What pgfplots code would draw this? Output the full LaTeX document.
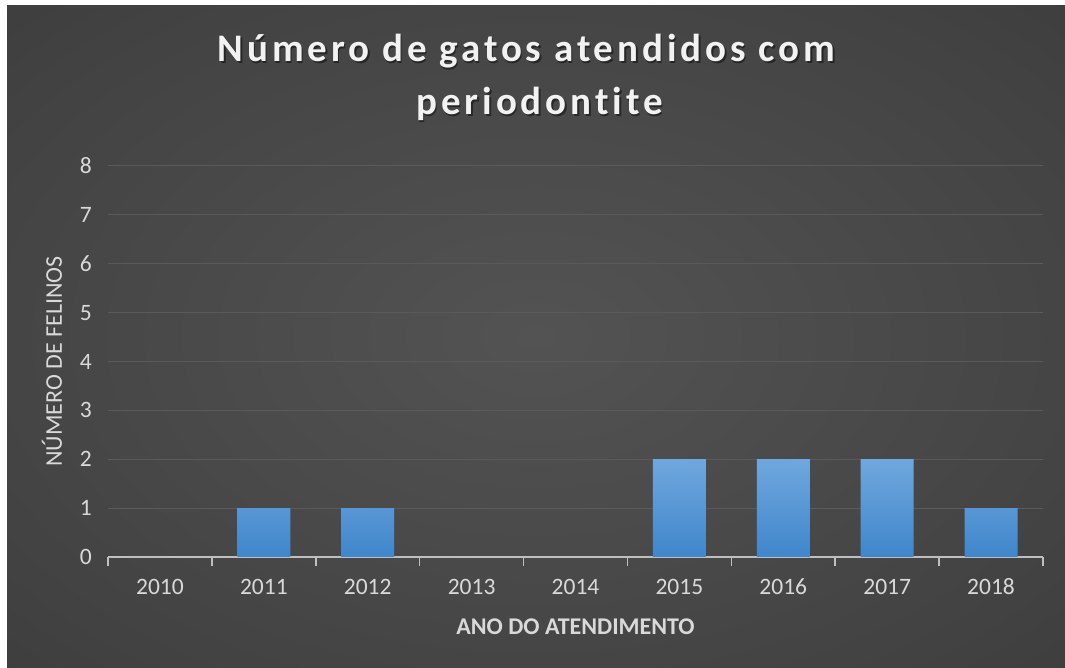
\documentclass[border=0pt]{standalone}
\usepackage{fontspec}
\setmainfont[Ligatures=NoCommon]{Carlito}
\newfontfamily\titlefont[LetterSpace=10,Ligatures=NoCommon]{Carlito}
\usepackage{pgfplots}
\pgfplotsset{compat=1.18}
\definecolor{bgA}{HTML}{535353}
\definecolor{bgB}{HTML}{424242}
\definecolor{bgC}{HTML}{262626}
\definecolor{gridc}{HTML}{5A5A5A}
\definecolor{axisc}{HTML}{BFBFBF}
\definecolor{labc}{HTML}{D9D9D9}
\definecolor{barT}{HTML}{70A7DE}
\definecolor{barB}{HTML}{3F86CB}
\pgfdeclareradialshading{bgshade}{\pgfpoint{0bp}{0bp}}{color(0bp)=(bgA); color(30bp)=(bgB); color(71bp)=(bgC)}
\begin{document}
\begin{tikzpicture}[x=1pt,y=1pt]
\fill[white] (0,0) rectangle (1065,668);
\shade[shading=bgshade] (7,0) rectangle (1065,662.5);
% title with soft shadow
\node[anchor=base, text=black, opacity=0.45, font=\titlefont\bfseries\fontsize{39}{39}\selectfont] at (528,604.5) {Número de gatos atendidos com};
\node[anchor=base, text=black, opacity=0.45, font=\titlefont\bfseries\fontsize{39}{39}\selectfont] at (541,551.5) {periodontite};
\node[anchor=base, text={white!95!black}, font=\titlefont\bfseries\fontsize{39}{39}\selectfont] at (526.5,606) {Número de gatos atendidos com};
\node[anchor=base, text={white!95!black}, font=\titlefont\bfseries\fontsize{39}{39}\selectfont] at (539.5,553) {periodontite};
\begin{axis}[
  at={(108pt,111pt)}, anchor=south west,
  scale only axis, width=935pt, height=391pt,
  xmin=-0.5, xmax=8.5, ymin=0, ymax=8,
  axis x line*=bottom, axis y line*=left,
  x axis line style={draw=axisc, line width=1.5pt, -},
  y axis line style={draw=none},
  xtick={0,1,2,3,4,5,6,7,8},
  xticklabels={2010,2011,2012,2013,2014,2015,2016,2017,2018},
  minor xtick={-0.5,0.5,1.5,2.5,3.5,4.5,5.5,6.5,7.5,8.5},
  ytick={0,1,2,3,4,5,6,7,8},
  major tick length=0pt, minor tick length=9pt, tick align=outside,
  minor x tick style={draw=axisc, line width=1.5pt},
  ymajorgrids, grid style={draw=gridc, line width=1pt},
  /pgf/number format/assume math mode=true,
  xticklabel style={anchor=base, yshift=-38pt, text=labc, font=\fontsize{23.5}{23.5}\selectfont},
  yticklabel style={anchor=east, inner sep=0pt, xshift=-16pt, text=labc, font=\fontsize{23.5}{23.5}\selectfont},
  xlabel={\textbf{ANO DO ATENDIMENTO}},
  xlabel style={at={(rel axis cs:0.5,0)}, anchor=base, yshift=-78pt, text=labc, font=\fontsize{24}{24}\selectfont},
  ylabel={NÚMERO DE FELINOS},
  ylabel style={at={(rel axis cs:0,0.5)}, anchor=base, yshift=46pt, text=labc, font=\fontsize{24}{24}\selectfont},
  restrict y to domain=0.5:100,
  clip=false,
]
\addplot[ybar, bar width=0.51, draw=none, top color=barT, bottom color=barB]
  coordinates {(0,0) (1,1) (2,1) (3,0) (4,0) (5,2) (6,2) (7,2) (8,1)};
\end{axis}
\pgfresetboundingbox
\path (0,0) rectangle (1065,668);
\end{tikzpicture}
\end{document}
